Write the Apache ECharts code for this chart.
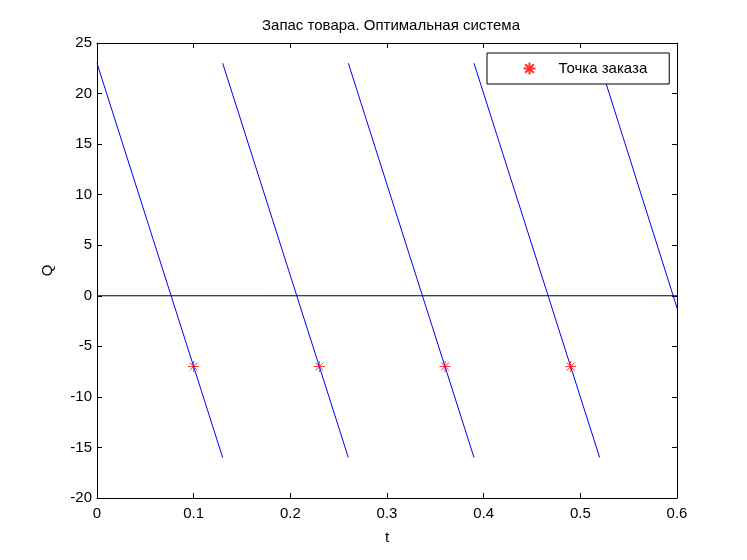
<!DOCTYPE html>
<html>
<head>
<meta charset="utf-8">
<script src="https://cdn.jsdelivr.net/npm/echarts@6/dist/echarts.min.js"></script>
<style>
  html, body { margin: 0; padding: 0; background: #fff; }
  #chart { width: 747px; height: 560px; }
</style>
</head>
<body>
<div id="chart"></div>
<script>
// отрезки расхода запаса (начало/конец каждого цикла)
const segT0 = [0, 0.13, 0.26, 0.39, 0.52]
const segT1 = [0.13, 0.26, 0.39, 0.52, 0.6]
const segQ0 = [23, 23, 23, 23, 23]
const segQ1 = [-16, -16, -16, -16, -1.2]

// точки заказа
const orderT = [0.1, 0.23, 0.36, 0.49]
const orderQ = [-7, -7, -7, -7]

const xTicks = [0, 0.1, 0.2, 0.3, 0.4, 0.5, 0.6]
const yTicks = [-20, -15, -10, -5, 0, 5, 10, 15, 20, 25]

const FONT = 'Liberation Sans, Arial, sans-serif'
const star = 'path://M0,-5L0,5M-5,0L5,0M-3.6,-3.6L3.6,3.6M-3.6,3.6L3.6,-3.6'

const chart = echarts.init(document.getElementById('chart'))

const lineSeries = segT0.map((t0, i) => ({
  type: 'line',
  data: [[t0, segQ0[i]], [segT1[i], segQ1[i]]],
  showSymbol: false,
  silent: true,
  lineStyle: { color: '#0000ff', width: 1 },
  z: 3
}))

const axisCommon = {
  type: 'value',
  axisLine: { show: true, onZero: false, lineStyle: { color: '#000', width: 1 } },
  axisTick: { show: true, inside: true, length: 5, lineStyle: { color: '#000' } },
  splitLine: { show: false }
}

const option = {
  animation: false,
  backgroundColor: '#fff',
  title: {
    text: 'Запас товара. Оптимальная система',
    left: 386,
    textAlign: 'center',
    top: 13,
    textStyle: { fontFamily: FONT, fontSize: 15, fontWeight: 'normal', color: '#000' }
  },
  grid: { left: 97, right: 70, top: 43, bottom: 62 },
  legend: {
    data: ['Точка заказа'],
    left: 487,
    top: 53,
    padding: [7, 22, 7, 34],
    itemWidth: 12,
    itemHeight: 12,
    itemGap: 0,
    borderColor: '#000',
    borderWidth: 1,
    borderRadius: 0,
    backgroundColor: '#fff',
    textStyle: { fontFamily: FONT, fontSize: 15, color: '#000', padding: [0, 0, 0, 18] }
  },
  xAxis: [
    Object.assign({}, axisCommon, {
      min: 0, max: 0.6, interval: 0.1,
      position: 'bottom',
      name: 't',
      nameLocation: 'middle',
      nameGap: 32,
      nameTextStyle: { fontFamily: FONT, fontSize: 15, color: '#000' },
      axisLabel: {
        fontFamily: FONT, fontSize: 15, color: '#000', margin: 8,
        formatter: v => xTicks.includes(+v.toFixed(1)) ? String(+v.toFixed(1)) : ''
      }
    }),
    Object.assign({}, axisCommon, {
      min: 0, max: 0.6, interval: 0.1,
      position: 'top',
      axisLabel: { show: false }
    })
  ],
  yAxis: [
    Object.assign({}, axisCommon, {
      min: -20, max: 25, interval: 5,
      position: 'left',
      name: 'Q',
      nameLocation: 'middle',
      nameGap: 42,
      nameRotate: 90,
      nameTextStyle: { fontFamily: FONT, fontSize: 15, color: '#000' },
      axisLabel: {
        fontFamily: FONT, fontSize: 15, color: '#000', margin: 5,
        formatter: v => yTicks.includes(v) ? String(v) : ''
      }
    }),
    Object.assign({}, axisCommon, {
      min: -20, max: 25, interval: 5,
      position: 'right',
      axisLabel: { show: false }
    })
  ],
  series: lineSeries.concat([
    {
      type: 'line',
      data: [[0, 0], [0.6, 0]],
      showSymbol: false,
      silent: true,
      lineStyle: { color: '#000', width: 1 },
      z: 2
    },
    {
      name: 'Точка заказа',
      type: 'scatter',
      data: orderT.map((t, i) => [t, orderQ[i]]),
      symbol: star,
      symbolSize: 11,
      itemStyle: { color: 'none', borderColor: '#ff0000', borderWidth: 1 },
      z: 5
    }
  ])
}

chart.setOption(option)
</script>
</body>
</html>
